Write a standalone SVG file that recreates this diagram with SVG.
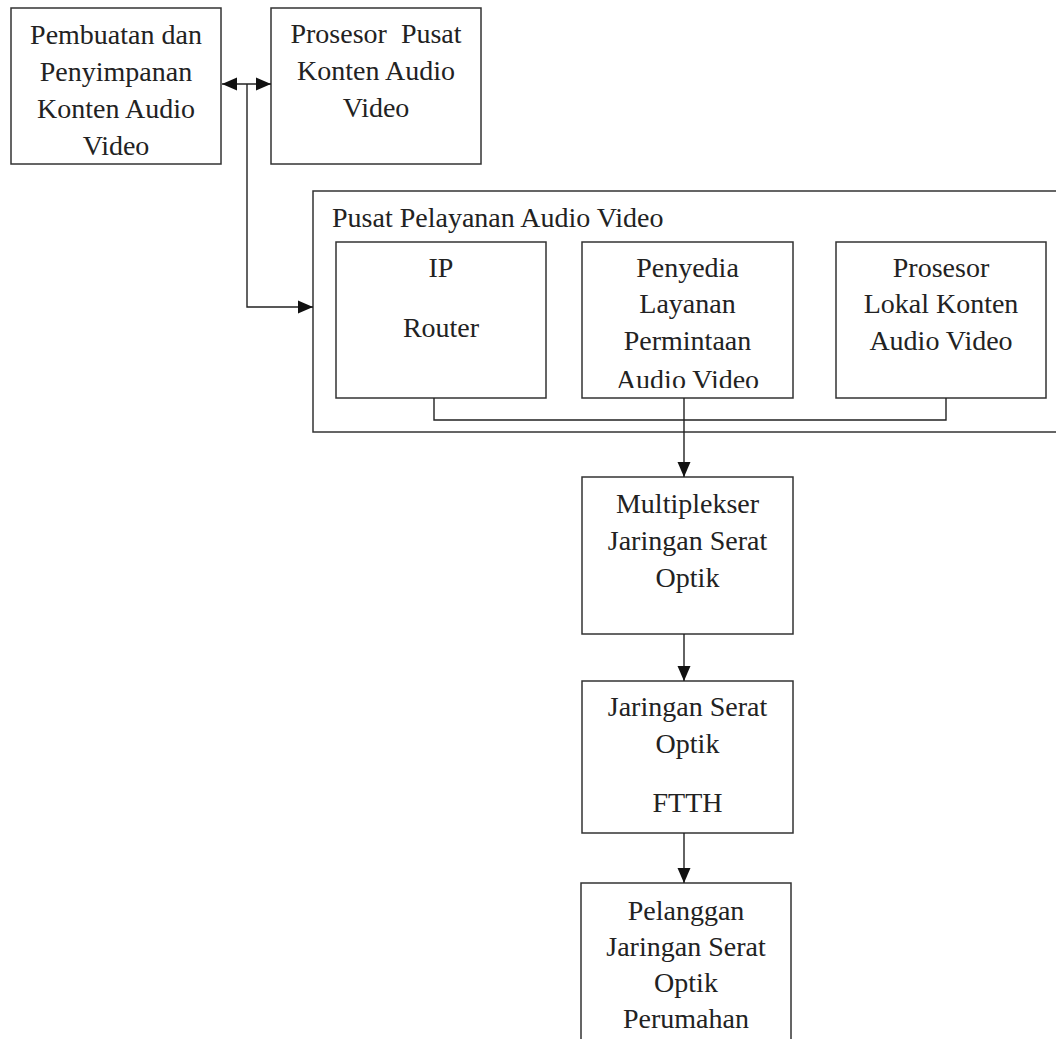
<svg xmlns="http://www.w3.org/2000/svg" width="1056" height="1039" viewBox="0 0 1056 1039">
  <style>
    .box { fill: #fff; stroke: #333; stroke-width: 1.5; }
    .wire { fill: none; stroke: #222; stroke-width: 1.4; }
    text { font-family: "Liberation Serif", "Times New Roman", serif; font-size: 28px; fill: #222; }
    .c { text-anchor: middle; }
  </style>
  <defs>
    <marker id="ah" markerUnits="userSpaceOnUse" markerWidth="16" markerHeight="14" refX="15" refY="7" orient="auto-start-reverse">
      <path d="M0,0.5 L15,7 L0,13.5 Z" fill="#111"/>
    </marker>
    <clipPath id="clipPenyedia">
      <rect x="582" y="242" width="211" height="146"/>
    </clipPath>
  </defs>

  <g id="node-pembuatan">
    <rect class="box" x="11" y="8" width="210" height="156"/>
    <text class="c" x="116" y="44">Pembuatan dan</text>
    <text class="c" x="116" y="81">Penyimpanan</text>
    <text class="c" x="116" y="118">Konten Audio</text>
    <text class="c" x="116" y="155">Video</text>
  </g>

  <g id="node-prosesor-pusat">
    <rect class="box" x="271" y="8" width="210" height="156"/>
    <text class="c" x="376" y="43" xml:space="preserve">Prosesor  Pusat</text>
    <text class="c" x="376" y="80">Konten Audio</text>
    <text class="c" x="376" y="117">Video</text>
  </g>

  <g id="node-pusat-pelayanan">
    <rect class="box" x="313" y="191" width="800" height="241"/>
    <text x="332" y="227">Pusat Pelayanan Audio Video</text>
  </g>

  <g id="node-ip-router">
    <rect class="box" x="336" y="242" width="210" height="156"/>
    <text class="c" x="441" y="277">IP</text>
    <text class="c" x="441" y="337">Router</text>
  </g>

  <g id="node-penyedia">
    <rect class="box" x="582" y="242" width="211" height="156"/>
    <g clip-path="url(#clipPenyedia)">
      <text class="c" x="687.5" y="277">Penyedia</text>
      <text class="c" x="687.5" y="313">Layanan</text>
      <text class="c" x="687.5" y="350">Permintaan</text>
      <text class="c" x="687.5" y="389">Audio Video</text>
    </g>
  </g>

  <g id="node-prosesor-lokal">
    <rect class="box" x="836" y="242" width="210" height="156"/>
    <text class="c" x="941" y="277">Prosesor</text>
    <text class="c" x="941" y="313">Lokal Konten</text>
    <text class="c" x="941" y="350">Audio Video</text>
  </g>

  <g id="node-multiplekser">
    <rect class="box" x="582" y="477" width="211" height="157"/>
    <text class="c" x="687.5" y="513">Multiplekser</text>
    <text class="c" x="687.5" y="550">Jaringan Serat</text>
    <text class="c" x="687.5" y="587">Optik</text>
  </g>

  <g id="node-jaringan">
    <rect class="box" x="582" y="681" width="211" height="152"/>
    <text class="c" x="687.5" y="716">Jaringan Serat</text>
    <text class="c" x="687.5" y="753">Optik</text>
    <text class="c" x="687.5" y="812">FTTH</text>
  </g>

  <g id="node-pelanggan">
    <rect class="box" x="581" y="883" width="210" height="200"/>
    <text class="c" x="686" y="920">Pelanggan</text>
    <text class="c" x="686" y="956">Jaringan Serat</text>
    <text class="c" x="686" y="992">Optik</text>
    <text class="c" x="686" y="1028">Perumahan</text>
  </g>

  <g id="connectors">
    <line class="wire" x1="222" y1="84" x2="271" y2="84" marker-start="url(#ah)" marker-end="url(#ah)"/>
    <polyline class="wire" points="247,84 247,307 313,307" marker-end="url(#ah)"/>
    <polyline class="wire" points="434,398 434,420 946,420 946,398"/>
    <line class="wire" x1="684" y1="398" x2="684" y2="420"/>
    <line class="wire" x1="684" y1="420" x2="684" y2="477" marker-end="url(#ah)"/>
    <line class="wire" x1="684" y1="634" x2="684" y2="681" marker-end="url(#ah)"/>
    <line class="wire" x1="684" y1="833" x2="684" y2="883" marker-end="url(#ah)"/>
  </g>
</svg>
